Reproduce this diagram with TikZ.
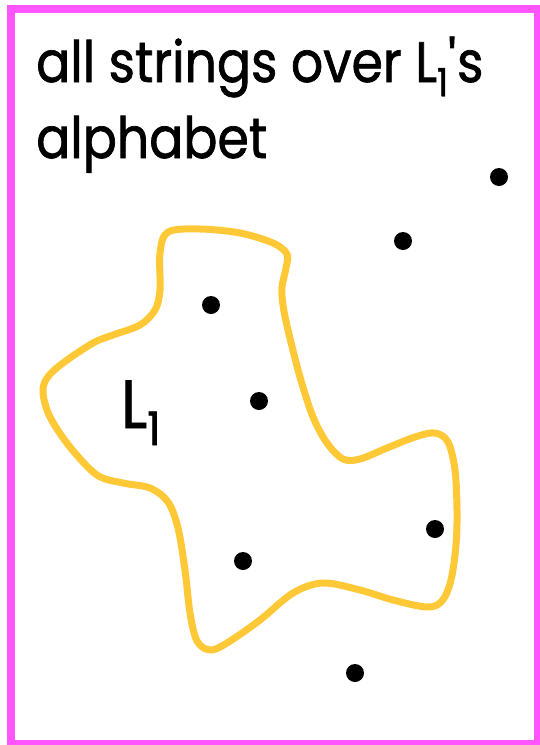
\documentclass[tikz,border=0pt]{standalone}
\usepackage{fontspec}
\usepackage{tikz}
\usetikzlibrary{positioning}
\newfontfamily\geofont[FakeStretch=0.886, FakeBold=1.2]{Poppins}
\definecolor{framepink}{HTML}{FF55FF}
\definecolor{langgold}{HTML}{FFC837}
\newcommand{\lowsub}[1]{\raisebox{-0.25em}{\scalebox{0.68}{#1}}}

\begin{document}
\begin{tikzpicture}[
		x=1pt, y=-1pt,
		title/.style={anchor=base west, inner sep=0pt, font=\geofont\fontsize{57}{64}\selectfont},
		strdot/.style={circle, fill=black, inner sep=0pt, minimum size=18pt},
		lang/.style={draw=langgold, line width=7pt, line join=round}
	]
	\useasboundingbox (0,0) rectangle (539,745);
	\fill[white] (0,0) rectangle (539,745);
	\draw[framepink, line width=8pt] (11,9) rectangle (538,744);

	\node[title] (hdr1) at (36,82) {all strings over L\lowsub{1}\textquotesingle s};
	\node[title] (hdr2) at (36,158) {alphabet};

	% the language L1
	\draw[lang] plot[smooth cycle, tension=0.55] coordinates {
		(168,232) (200,229) (240,233) (273,243) (287,254) (286,268) (282,287)
		(283,305) (288,330) (300,377) (313,417) (327,443) (343,459) (360,459)
		(387,448) (415,437) (435,433) (448,442) (455,470) (457,510) (456,545)
		(451,580) (442,601) (427,607) (393,600) (360,590) (323,583) (293,593)
		(260,620) (227,643) (210,650) (197,641) (190,613) (185,570) (178,528)
		(168,502) (150,488) (123,483) (97,475) (70,447) (50,417) (43,393)
		(47,378) (63,363) (93,343) (113,335) (140,325) (155,310) (160,290)
		(160,253)};
	\node[anchor=base west, inner sep=0pt, font=\geofont\fontsize{68}{76}\selectfont] (lname) at (121,428) {L\lowsub{1}};

	\node[strdot] (str1) at (499,177) {};
	\node[strdot] (str2) at (403,241) {};
	\node[strdot] (str3) at (211,305) {};
	\node[strdot] (str4) at (259,401) {};
	\node[strdot] (str5) at (435,529) {};
	\node[strdot] (str6) at (243,561) {};
	\node[strdot] (str7) at (355,673) {};
\end{tikzpicture}
\end{document}
